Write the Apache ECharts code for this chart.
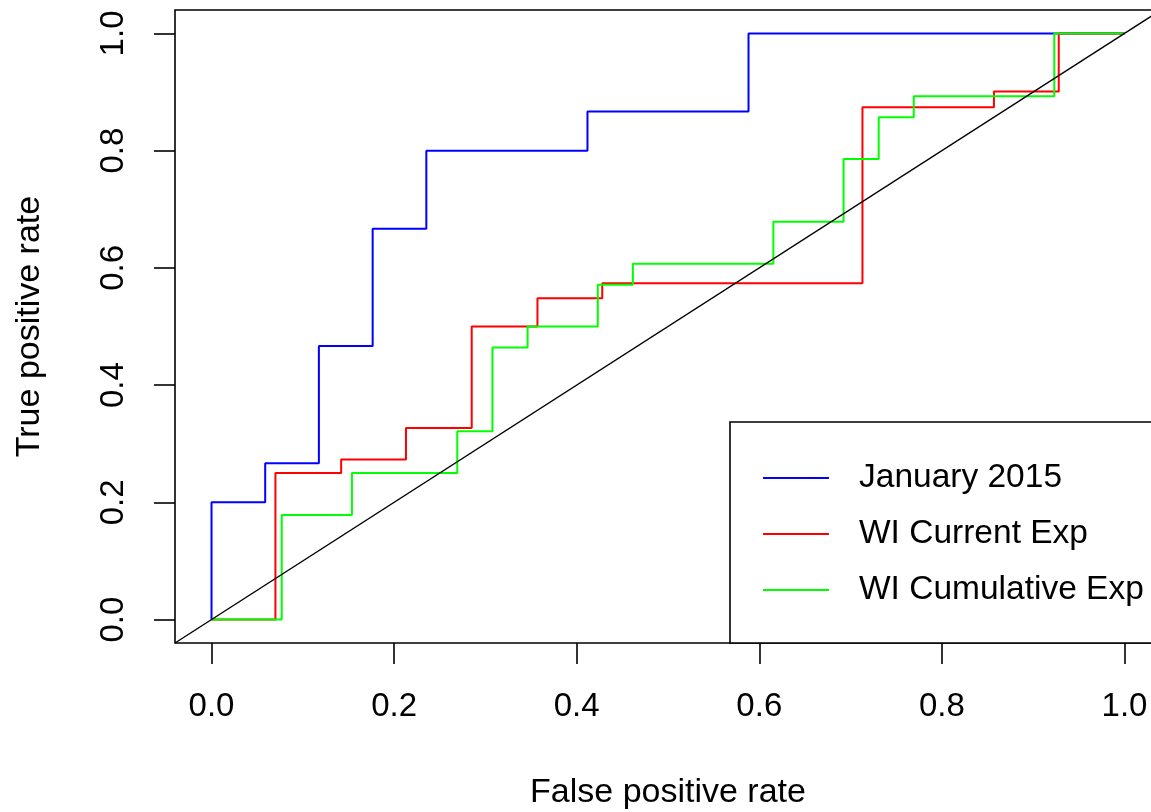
<!DOCTYPE html>
<html>
<head>
<meta charset="utf-8">
<title>ROC curves</title>
<script src="https://cdn.jsdelivr.net/npm/echarts@6/dist/echarts.min.js"></script>
<style>
  html, body { margin: 0; padding: 0; background: #fff; }
  #chart { width: 1151px; height: 812px; }
</style>
</head>
<body>
<div id="chart"></div>
<script>
// ROC curve corner points (false positive rate, true positive rate)
const januaryFpr = [0, 0, 0.0588, 0.1176, 0.1765, 0.2353, 0.4118, 0.5882, 1];
const januaryTpr = [0, 0.2, 0.2667, 0.4667, 0.6667, 0.8, 0.8667, 1, 1];

const currentFpr = [0, 0.070, 0.142, 0.213, 0.285, 0.357, 0.428, 0.713, 0.857, 0.928, 1];
const currentTpr = [0, 0.250, 0.273, 0.327, 0.500, 0.548, 0.574, 0.874, 0.901, 1, 1];

const cumulativeFpr = [0, 0.0769, 0.1538, 0.2692, 0.3077, 0.3462, 0.4231, 0.4615, 0.6154, 0.6923, 0.7308, 0.7692, 0.9231, 1];
const cumulativeTpr = [0, 0.1786, 0.25, 0.3214, 0.4643, 0.5, 0.5714, 0.6071, 0.6786, 0.7857, 0.8571, 0.8929, 1, 1];

const seriesNames = ['January 2015', 'WI Current Exp', 'WI Cumulative Exp'];
const tickValues = [0, 0.2, 0.4, 0.6, 0.8, 1.0];
const axisRange = [-0.04, 1.04];
const chanceLine = [-0.04, 1.04];

const pairs = (xs, ys) => xs.map((x, i) => [x, ys[i]]);

const FONT = 'Liberation Sans, Arial, Helvetica, sans-serif';

function stepSeries(name, color, xs, ys) {
  return {
    name: name,
    type: 'line',
    step: 'end',
    data: pairs(xs, ys),
    showSymbol: false,
    symbol: 'none',
    lineStyle: { color: color, width: 2 },
    itemStyle: { color: color },
    emphasis: { disabled: true },
    z: 3
  };
}

const chart = echarts.init(document.getElementById('chart'), null, { renderer: 'canvas' });

const commonAxis = {
  type: 'value',
  min: axisRange[0],
  max: axisRange[1],
  splitLine: { show: false },
  axisLine: { show: false, onZero: false },
  axisTick: {
    show: true,
    inside: false,
    length: 21,
    customValues: tickValues,
    lineStyle: { color: '#000', width: 1.6 }
  },
  nameLocation: 'middle',
  nameTextStyle: { color: '#000', fontFamily: FONT, fontSize: 34 }
};

chart.setOption({
  animation: false,
  backgroundColor: '#fff',
  grid: {
    left: 175,
    top: 10,
    width: 986,
    height: 633,
    outerBoundsMode: 'none',
    containLabel: false,
    show: true,
    borderColor: '#000',
    borderWidth: 1.6,
    backgroundColor: 'transparent'
  },
  xAxis: Object.assign({}, commonAxis, {
    name: 'False positive rate',
    nameGap: 133,
    axisLabel: {
      customValues: tickValues,
      formatter: v => v.toFixed(1),
      margin: 47,
      color: '#000',
      fontFamily: FONT,
      fontSize: 33
    }
  }),
  yAxis: Object.assign({}, commonAxis, {
    name: 'True positive rate',
    nameGap: 128,
    axisLabel: {
      customValues: tickValues,
      formatter: v => v.toFixed(1),
      rotate: 90,
      margin: 45,
      color: '#000',
      fontFamily: FONT,
      fontSize: 33
    }
  }),
  legend: {
    data: seriesNames,
    orient: 'vertical',
    left: 730,
    top: 422,
    padding: [39, 22, 36, 33],
    itemGap: 22,
    itemWidth: 66,
    itemHeight: 2,
    icon: 'rect',
    selectedMode: false,
    backgroundColor: '#fff',
    borderColor: '#000',
    borderWidth: 1.6,
    textStyle: {
      color: '#000',
      fontFamily: FONT,
      fontSize: 33.5,
      lineHeight: 34,
      padding: [0, 0, 0, 25]
    }
  },
  series: [
    stepSeries(seriesNames[0], '#0000ff', januaryFpr, januaryTpr),
    stepSeries(seriesNames[1], '#ff0000', currentFpr, currentTpr),
    stepSeries(seriesNames[2], '#00ff00', cumulativeFpr, cumulativeTpr),
    {
      name: 'chance',
      type: 'line',
      data: [[chanceLine[0], chanceLine[0]], [chanceLine[1], chanceLine[1]]],
      showSymbol: false,
      symbol: 'none',
      lineStyle: { color: '#000', width: 1.4 },
      emphasis: { disabled: true },
      z: 4
    }
  ]
});
</script>
</body>
</html>
